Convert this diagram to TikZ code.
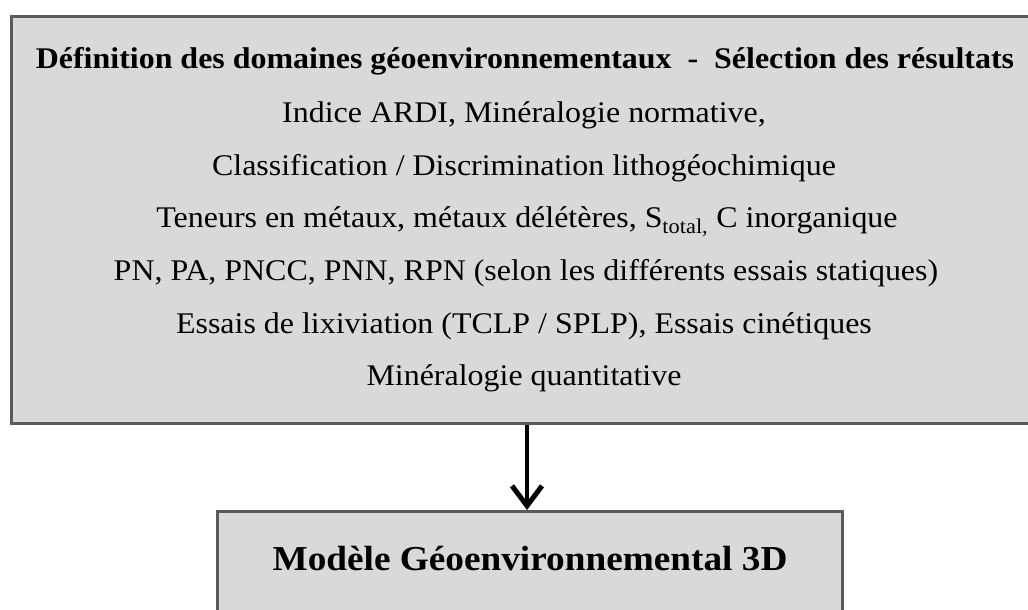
\documentclass[tikz,border=0pt]{standalone}
\usepackage{fontspec}
\setmainfont{Liberation Serif}[FakeStretch=1.065]
\usetikzlibrary{arrows.meta}
\definecolor{boxfill}{HTML}{D9D9D9}
\definecolor{boxline}{HTML}{5A5A5A}
\tikzset{
  panel/.style={draw=boxline, line width=3pt, fill=boxfill, rectangle, inner sep=0pt},
  bodyline/.style={anchor=base, inner sep=0pt, font=\fontsize{30}{36}\selectfont},
  titleline/.style={anchor=base, inner sep=0pt, font=\fontsize{30}{36}\selectfont\bfseries},
  bigtitle/.style={anchor=base, inner sep=0pt, font=\fontsize{35}{42}\selectfont\bfseries},
  flow/.style={line width=4.5pt, -{Straight Barb[length=20pt,width=30pt,line width=5pt]}}
}
\begin{document}
\begin{tikzpicture}[x=1pt,y=-1pt]
\useasboundingbox (0,0) rectangle (1028,610);
\clip (0,0) rectangle (1028,610);
\node[panel, minimum width=1030pt, minimum height=407pt, anchor=north west] (top) at (10,15) {};
\node[panel, minimum width=625pt, minimum height=140pt, anchor=north west] (bottom) at (216,510) {};
\node[titleline] (t0) at (525,69) {Définition des domaines géoenvironnementaux~~-~~Sélection des résultats};
\node[bodyline] (t1) at (524,122) {Indice ARDI, Minéralogie normative,};
\node[bodyline] (t2) at (524,175) {Classification / Discrimination lithogéochimique};
\node[bodyline] (t3) at (527,227) {Teneurs en métaux, métaux délétères, S\textsubscript{total,} C inorganique};
\node[bodyline] (t4) at (526,280) {PN, PA, PNCC, PNN, RPN (selon les différents essais statiques)};
\node[bodyline] (t5) at (524,333) {Essais de lixiviation (TCLP / SPLP), Essais cinétiques};
\node[bodyline] (t6) at (524,385) {Minéralogie quantitative};
\node[bigtitle] (b0) at (530,570) {Modèle Géoenvironnemental 3D};
\draw[flow] (top.south -| 527,0) -- (bottom.north -| 527,0);
\end{tikzpicture}
\end{document}
